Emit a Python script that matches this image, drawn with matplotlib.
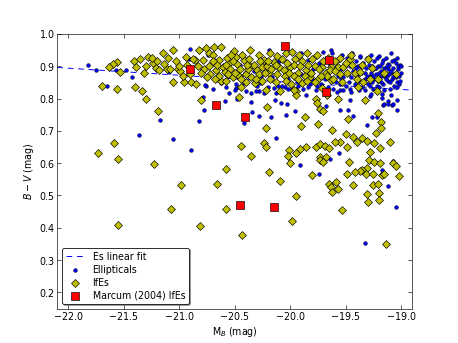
import matplotlib
matplotlib.use("Agg")
import matplotlib.pyplot as plt
import numpy as np

plt.rcParams['font.family'] = ['DejaVu Sans']
plt.rcParams['font.size'] = 12
plt.rcParams['mathtext.fontset'] = 'dejavusans'

# ---- data -------------------------------------------------------------
# linear fit to the ellipticals: B-V = slope * M_B + intercept
fit_slope = -0.0219
fit_intercept = 0.412
fit_range = [-22.1, -18.9]

# Marcum (2004) IfEs
marcum_mb = [-20.90, -20.67, -20.41, -20.05, -19.65, -19.68, -20.45, -20.15]
marcum_bv = [0.892, 0.780, 0.744, 0.963, 0.920, 0.820, 0.470, 0.463]

# IfEs
ife_mb = [
    -21.70, -21.56, -21.53, -21.56, -21.60, -21.63, -21.40, -21.34, -21.30, -21.19,
    -21.41, -21.35, -21.28, -21.39, -21.30, -21.24, -21.32, -21.21, -21.15, -21.06,
    -21.14, -21.11, -21.18, -21.06, -20.96, -20.94, -21.01, -20.99, -20.89, -20.85,
    -20.86, -20.82, -20.76, -20.69, -20.62, -20.73, -20.44, -20.46, -20.62, -20.36,
    -20.51,
    -21.00, -21.08, -20.88, -20.83, -20.78, -20.73, -20.72, -20.67, -20.64, -20.61,
    -20.55, -20.54, -20.49, -20.48, -20.45, -20.42, -20.37, -20.36, -20.35, -20.32,
    -20.40, -20.30, -20.25, -20.21, -20.19, -20.15, -20.10, -20.06, -20.07, -20.22,
    -20.09, -20.75, -20.64, -20.52, -20.46, -20.59,
    -19.96, -19.89, -19.80, -19.71, -19.63, -19.57, -19.46, -19.30, -20.00, -19.93,
    -19.86, -19.82, -19.75, -19.68, -19.64, -19.52, -19.42, -19.37, -19.28, -19.21,
    -19.89, -19.71, -19.63, -19.39, -19.22, -19.33, -19.57, -19.95, -19.95, -19.73,
    -19.70, -19.21,
    -20.21, -19.77, -19.76, -19.67, -19.87, -19.48, -19.90, -19.75, -20.22, -19.18,
    -19.18, -19.62, -19.23, -19.50, -19.43, -19.35, -19.31, -19.40, -19.55, -19.60,
    -19.10, -19.24, -20.44, -20.24, -20.22, -19.86, -19.77, -19.73, -19.69, -19.65,
    -19.49, -19.19, -20.01, -19.91, -19.95, -19.28, -20.02, -20.35, -19.73, -19.68,
    -19.73, -19.70, -20.00, -19.47, -19.29, -19.24, -19.19, -19.07, -19.05, -19.31,
    -19.35, -19.37, -19.42, -19.32, -19.25, -19.17, -19.15, -19.02, -19.49, -19.80,
    -20.19, -20.09, -19.65, -19.59, -19.63, -19.57, -19.62, -19.43, -19.25, -19.21,
    -19.31, -19.20, -19.30, -19.20, -19.95, -19.53, -19.98, -19.14,
    -21.73, -21.59, -21.55, -21.23, -21.55, -21.07, -20.98, -20.81, -20.80, -20.66,
    -20.58, -20.58, -20.43,
    -20.28, -20.24, -20.18, -20.12, -20.04, -19.98, -19.92, -19.85, -19.76, -19.70,
    -19.66, -19.60, -19.55, -19.50, -19.44, -20.27, -20.20, -20.13, -20.03, -19.97,
    -19.91, -19.84, -19.78, -19.74, -19.67, -19.60, -19.55, -19.49, -20.33, -20.28,
    -20.23, -20.17, -20.12, -20.05, -20.01, -19.97, -19.93, -19.87, -19.81, -19.78,
    -19.72, -20.38, -20.31, -20.25, -20.18, -20.13, -20.04, -19.99, -19.85, -19.61,
    -19.53, -20.57, -20.53, -20.58, -20.52, -20.43, -20.39, -20.56, -20.50, -20.44,
    -20.70, -20.66, -20.70, -20.79, -20.80, -20.93, -20.90, -21.03, -21.10, -21.20,
    -21.25, -20.97, -20.68, -20.58, -20.40, -19.45, -19.35, -19.26, -19.15, -19.05,
    -19.40, -19.34, -19.97,
]
ife_bv = [
    0.840, 0.829, 0.882, 0.912, 0.908, 0.898, 0.837, 0.823, 0.800, 0.760,
    0.917, 0.923, 0.929, 0.899, 0.902, 0.909, 0.879, 0.894, 0.940, 0.950,
    0.907, 0.891, 0.889, 0.851, 0.850, 0.928, 0.891, 0.884, 0.850, 0.844,
    0.920, 0.951, 0.956, 0.959, 0.958, 0.940, 0.837, 0.806, 0.853, 0.949,
    0.946,
    0.902, 0.892, 0.923, 0.902, 0.892, 0.902, 0.877, 0.889, 0.918, 0.899,
    0.910, 0.892, 0.928, 0.907, 0.892, 0.918, 0.923, 0.902, 0.866, 0.848,
    0.877, 0.887, 0.897, 0.902, 0.879, 0.913, 0.897, 0.887, 0.923, 0.825,
    0.823, 0.866, 0.871, 0.866, 0.871, 0.882,
    0.923, 0.916, 0.923, 0.897, 0.899, 0.899, 0.923, 0.923, 0.897, 0.879,
    0.887, 0.866, 0.861, 0.879, 0.887, 0.897, 0.879, 0.882, 0.861, 0.861,
    0.848, 0.833, 0.856, 0.837, 0.823, 0.796, 0.799, 0.823, 0.810, 0.769,
    0.761, 0.756,
    0.774, 0.797, 0.786, 0.810, 0.744, 0.737, 0.716, 0.721, 0.710, 0.726,
    0.708, 0.704, 0.692, 0.689, 0.681, 0.678, 0.669, 0.667, 0.667, 0.664,
    0.666, 0.663, 0.653, 0.663, 0.649, 0.651, 0.649, 0.660, 0.652, 0.647,
    0.651, 0.648, 0.640, 0.644, 0.632, 0.635, 0.621, 0.623, 0.619, 0.620,
    0.611, 0.603, 0.601, 0.605, 0.611, 0.603, 0.602, 0.599, 0.592, 0.585,
    0.579, 0.575, 0.574, 0.565, 0.565, 0.562, 0.565, 0.561, 0.567, 0.562,
    0.573, 0.546, 0.537, 0.541, 0.525, 0.519, 0.511, 0.532, 0.532, 0.537,
    0.506, 0.509, 0.481, 0.487, 0.498, 0.455, 0.420, 0.349,
    0.630, 0.661, 0.614, 0.597, 0.409, 0.459, 0.531, 0.407, 0.794, 0.537,
    0.582, 0.459, 0.377,
    0.935, 0.920, 0.940, 0.930, 0.940, 0.945, 0.935, 0.940, 0.935, 0.915,
    0.925, 0.915, 0.925, 0.910, 0.905, 0.915, 0.915, 0.905, 0.910, 0.905,
    0.900, 0.905, 0.900, 0.890, 0.870, 0.885, 0.875, 0.880, 0.905, 0.875,
    0.880, 0.890, 0.875, 0.870, 0.880, 0.870, 0.860, 0.870, 0.880, 0.850,
    0.870, 0.890, 0.860, 0.855, 0.860, 0.850, 0.855, 0.845, 0.855, 0.860,
    0.850, 0.925, 0.935, 0.905, 0.915, 0.935, 0.905, 0.875, 0.880, 0.860,
    0.935, 0.905, 0.915, 0.920, 0.880, 0.905, 0.875, 0.915, 0.925, 0.915,
    0.925, 0.870, 0.860, 0.855, 0.850, 0.935, 0.905, 0.895, 0.880, 0.875,
    0.860, 0.850, 0.827,
]

# Ellipticals
ell_mb = [
    -21.82, -21.75, -21.65, -21.57, -21.48, -21.43, -21.09, -21.36, -21.17, -21.06,
    -20.89, -20.82, -20.78, -20.59, -20.90, -20.76, -20.79, -20.49, -20.42, -20.91,
    -20.74, -20.69, -20.60, -20.67, -20.35, -20.46, -20.49, -20.42, -20.27, -20.48,
    -20.35, -20.28, -20.13, -20.07, -20.14, -20.08, -20.03, -20.34, -20.28, -20.17,
    -20.04, -19.96, -19.68, -19.55, -19.48, -19.43, -19.46, -19.28, -19.17, -19.12,
    -19.16, -19.08, -19.04, -19.26, -19.22, -19.31, -20.13, -19.56, -19.64, -19.91,
    -19.74, -19.17, -19.07, -19.12, -19.05, -19.33, -19.86, -19.33, -19.27, -19.17,
    -19.15, -19.12, -19.07, -19.04, -19.09, -19.63, -19.37, -19.06, -19.12, -19.46,
    -19.55,
    -20.47, -20.41, -20.33, -20.30, -20.26, -20.20, -20.16, -20.11, -20.05, -20.02,
    -20.38, -20.22, -20.10, -20.45, -20.19,
    -19.98, -19.94, -19.90, -19.88, -19.84, -19.82, -19.79, -19.77, -19.74, -19.72,
    -19.69, -19.66, -19.64, -19.62, -19.61, -19.90, -19.70, -19.80,
    -19.59, -19.58, -19.57, -19.56, -19.55, -19.54, -19.53, -19.52, -19.51, -19.50,
    -19.49, -19.48, -19.47, -19.46, -19.45, -19.44, -19.43, -19.42, -19.41, -19.40,
    -19.39, -19.38, -19.37, -19.36, -19.35, -19.34, -19.33, -19.32, -19.31, -19.30,
    -19.58, -19.52, -19.45, -19.38, -19.33, -19.47, -19.54, -19.41, -19.36, -19.31,
    -19.29, -19.28, -19.27, -19.26, -19.25, -19.24, -19.23, -19.22, -19.21, -19.20,
    -19.19, -19.18, -19.17, -19.16, -19.15, -19.14, -19.13, -19.12, -19.11, -19.10,
    -19.09, -19.08, -19.07, -19.06, -19.05, -19.04, -19.03, -19.02, -19.01, -19.00,
    -19.28, -19.24, -19.20, -19.16, -19.12, -19.08, -19.04, -19.26, -19.22, -19.18,
    -19.14, -19.10, -19.06, -19.02, -19.27, -19.23, -19.19, -19.15, -19.11, -19.07,
    -19.03, -19.29, -19.25, -19.21, -19.17, -19.13, -19.09, -19.05, -19.01, -19.00,
    -19.20, -19.10, -19.04, -19.25, -19.15,
    -20.77, -20.55, -20.50, -20.40, -20.31, -20.24, -20.15, -20.02, -19.93, -19.84,
    -19.76, -19.70, -20.62, -20.58, -20.70,
]
ell_bv = [
    0.904, 0.889, 0.840, 0.889, 0.889, 0.866, 0.882, 0.688, 0.734, 0.675,
    0.642, 0.731, 0.765, 0.793, 0.954, 0.840, 0.806, 0.832, 0.723, 0.923,
    0.936, 0.920, 0.887, 0.856, 0.817, 0.836, 0.844, 0.848, 0.848, 0.799,
    0.789, 0.823, 0.818, 0.840, 0.796, 0.785, 0.783, 0.757, 0.745, 0.744,
    0.749, 0.762, 0.778, 0.766, 0.764, 0.747, 0.794, 0.809, 0.802, 0.791,
    0.781, 0.781, 0.763, 0.742, 0.744, 0.718, 0.677, 0.631, 0.613, 0.594,
    0.567, 0.580, 0.606, 0.530, 0.464, 0.354, 0.810, 0.825, 0.815, 0.813,
    0.782, 0.782, 0.782, 0.796, 0.810, 0.951, 0.928, 0.918, 0.907, 0.830,
    0.825,
    0.870, 0.880, 0.885, 0.840, 0.870, 0.835, 0.865, 0.840, 0.835, 0.860,
    0.925, 0.905, 0.915, 0.905, 0.950,
    0.830, 0.850, 0.875, 0.830, 0.920, 0.845, 0.890, 0.825, 0.910, 0.845,
    0.860, 0.835, 0.905, 0.940, 0.830, 0.940, 0.945, 0.860,
    0.850, 0.900, 0.870, 0.920, 0.845, 0.890, 0.935, 0.865, 0.905, 0.840,
    0.925, 0.875, 0.850, 0.900, 0.865, 0.940, 0.885, 0.845, 0.915, 0.870,
    0.900, 0.855, 0.930, 0.880, 0.835, 0.910, 0.860, 0.895, 0.925, 0.845,
    0.820, 0.825, 0.820, 0.825, 0.880, 0.910, 0.860, 0.895, 0.900, 0.870,
    0.905, 0.870, 0.935, 0.850, 0.890, 0.915, 0.875, 0.840, 0.900, 0.930,
    0.865, 0.885, 0.910, 0.845, 0.895, 0.925, 0.870, 0.855, 0.905, 0.880,
    0.940, 0.860, 0.895, 0.875, 0.910, 0.850, 0.890, 0.870, 0.905, 0.880,
    0.840, 0.860, 0.880, 0.920, 0.890, 0.915, 0.925, 0.900, 0.925, 0.850,
    0.860, 0.850, 0.840, 0.845, 0.880, 0.895, 0.900, 0.870, 0.875, 0.865,
    0.900, 0.920, 0.870, 0.855, 0.880, 0.900, 0.885, 0.865, 0.855, 0.900,
    0.835, 0.830, 0.835, 0.830, 0.825,
    0.843, 0.818, 0.826, 0.823, 0.823, 0.818, 0.832, 0.829, 0.838, 0.835,
    0.838, 0.829, 0.848, 0.836, 0.828,
]

# ---- plot -------------------------------------------------------------
fig = plt.figure(figsize=(8, 6), dpi=57.25)
ax = fig.add_subplot(111)
fig.subplots_adjust(left=0.125, right=0.9, bottom=0.1, top=0.9)

fx = np.array(fit_range)
ax.plot(fx, fit_slope * fx + fit_intercept, color='b', lw=1.2,
        linestyle=(0, (6, 5)), label='Es linear fit', zorder=1)
ax.scatter(ell_mb, ell_bv, s=22, c='b', edgecolors='k', linewidths=0.6,
           label='Ellipticals', zorder=2)
ax.scatter(ife_mb, ife_bv, s=50, marker='D', c=[(0.75, 0.75, 0.0)],
           edgecolors='k', linewidths=0.8, label='IfEs', zorder=3)
ax.scatter(marcum_mb, marcum_bv, s=90, marker='s', c='r', edgecolors='k',
           linewidths=0.8, label='Marcum (2004) IfEs', zorder=4)

ax.set_xlim(-22.1, -18.9)
ax.set_ylim(0.15, 1.0)
ax.set_xticks(np.arange(-22.0, -18.99, 0.5))
ax.set_yticks(np.arange(0.2, 1.001, 0.1))
ax.tick_params(direction='in', top=True, right=True, length=5, labelsize=12)
ax.set_xlabel('M$_B$ (mag)', fontsize=12)
ax.set_ylabel('$B-V$ (mag)', fontsize=12)

leg = ax.legend(loc='lower left', scatterpoints=1, fontsize=12, fancybox=True,
                shadow=True, framealpha=1, edgecolor='k', borderpad=0.4,
                labelspacing=0.3, handlelength=2.0, handletextpad=0.8,
                borderaxespad=0.5)
leg.get_frame().set_linewidth(1.0)

fig.savefig('out.png', dpi=57.25)
